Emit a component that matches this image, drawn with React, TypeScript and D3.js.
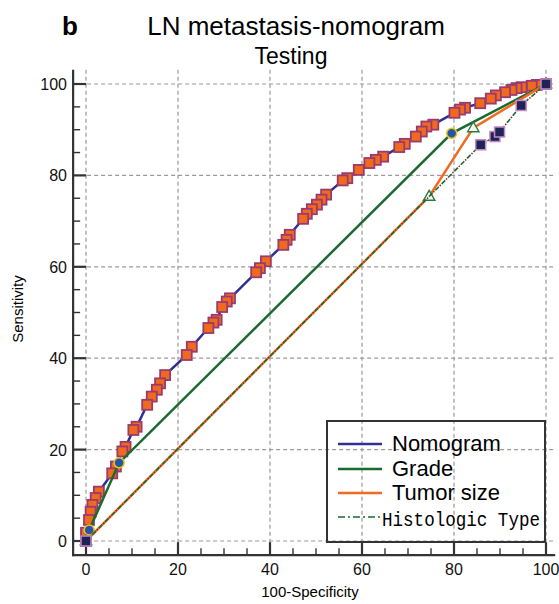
import React from "react";
import * as d3 from "d3";

const nomX = [0, 0, 0.65, 1.0, 1.4, 2.1, 2.8, 5.7, 6.5, 7.9, 8.6, 10.3, 11.0, 13.3, 14.3, 15.4, 16.1, 17.2, 21.9, 23.0, 26.6, 27.7, 28.4, 29.6, 30.6, 31.3, 37.0, 37.8, 39.1, 42.9, 43.6, 44.3, 47.2, 48.0, 49.1, 50.2, 51.2, 52.2, 55.8, 56.8, 59.3, 61.6, 63.0, 64.6, 68.1, 69.3, 71.7, 73.0, 74.0, 75.5, 80.1, 81.3, 82.4, 85.7, 88.0, 89.1, 91.1, 92.5, 93.6, 94.7, 96.9, 98.0, 100];
const nomY = [0, 1.8, 4.6, 6.4, 7.9, 9.4, 10.8, 14.8, 16.3, 19.6, 20.6, 24.3, 25.0, 29.8, 31.6, 33.1, 34.5, 36.3, 40.7, 42.5, 46.6, 47.8, 48.4, 51.2, 52.4, 53.1, 58.8, 59.7, 61.2, 64.8, 65.9, 67.0, 70.5, 71.6, 72.6, 73.6, 74.7, 75.8, 78.9, 79.4, 81.2, 82.7, 83.4, 84.1, 86.2, 86.9, 88.5, 89.6, 90.7, 91.1, 93.7, 94.4, 94.8, 95.8, 96.8, 97.5, 98.2, 98.7, 99.1, 99.3, 99.6, 99.8, 100];

const gradeX = [0, 0.7, 7.2, 79.5, 100];
const gradeY = [0, 2.4, 17.1, 89.2, 100];

const sizeX = [0, 74.6, 84.2, 100];
const sizeY = [0, 75.4, 90.4, 100];

const histX = [0, 85.8, 88.9, 89.9, 94.6, 100];
const histY = [0, 86.7, 88.5, 89.5, 95.3, 100];

const ticks = [0, 20, 40, 60, 80, 100];
const minorTicks = d3.range(0, 101, 5);
const legendLabels = ["Nomogram", "Grade", "Tumor size", "Histologic Type"];

const C_NOM = "#2e3192";
const C_GRADE = "#1b6a30";
const C_SIZE = "#f26a1f";
const C_HIST = "#1b6a30";

export default function App() {
  const W = 559, H = 604;
  const x = d3.scaleLinear().domain([0, 100]).range([86, 546]);
  const y = d3.scaleLinear().domain([0, 100]).range([541, 84]);
  const axX = x(-2.8), axY = y(-3.1);
  const xEnd = x(102), yTop = y(103.1);
  const line = (xs: number[], ys: number[]) =>
    d3.line<number>().x((_, i) => x(xs[i])).y((_, i) => y(ys[i]))(xs.map((_, i) => i)) || "";
  const sans = "'Liberation Sans', Arial, sans-serif";
  const nomIdx = nomX.map((_, i) => i).reverse();
  const lg = { x0: 327, y0: 421, x1: 545, y1: 542 };
  const lgRows = [444, 469, 493, 517];
  const tri = (cx: number, cy: number, s: number) =>
    `M${cx},${cy - s}L${cx + s * 0.95},${cy + s * 0.65}L${cx - s * 0.95},${cy + s * 0.65}Z`;
  return (
    <svg width={W} height={H} style={{ position: "absolute", left: 0, top: 0 }} fontFamily={sans}>
      <rect width={W} height={H} fill="#fff" />
      <text x={62} y={35} fontSize={26} fontWeight="bold">b</text>
      <text x={296} y={35} fontSize={26} textAnchor="middle">LN metastasis-nomogram</text>
      <text x={291} y={64} fontSize={23} textAnchor="middle">Testing</text>
      {/* grid */}
      <g stroke="#9a9a9a" strokeWidth={1.2} strokeDasharray="4,3" fill="none">
        {ticks.map((t) => (
          <line key={"gx" + t} x1={x(t)} x2={x(t)} y1={yTop} y2={axY} />
        ))}
        {ticks.map((t) => (
          <line key={"gy" + t} x1={axX} x2={xEnd} y1={y(t)} y2={y(t)} />
        ))}
      </g>
      {/* axes */}
      <g stroke="#333" fill="none">
        <line x1={axX} x2={axX} y1={yTop} y2={axY + 1} strokeWidth={2.2} />
        <line x1={axX - 1} x2={xEnd} y1={axY} y2={axY} strokeWidth={2.2} />
        {minorTicks.map((t) => {
          const major = t % 20 === 0;
          const len = major ? 13 : 7;
          return (
            <g key={"t" + t} strokeWidth={major ? 2.2 : 1.4}>
              <line x1={axX} x2={axX + len} y1={y(t)} y2={y(t)} />
              <line x1={x(t)} x2={x(t)} y1={axY} y2={axY - len} />
            </g>
          );
        })}
      </g>
      <g fontSize={16} fill="#111">
        {ticks.map((t) => (
          <text key={"ly" + t} x={67} y={y(t) + 6} textAnchor="end">{t}</text>
        ))}
        {ticks.map((t) => (
          <text key={"lx" + t} x={x(t)} y={575} textAnchor="middle">{t}</text>
        ))}
      </g>
      <text x={310} y={597} fontSize={15} textAnchor="middle">100-Specificity</text>
      <text transform="translate(23,309) rotate(-90)" fontSize={15} textAnchor="middle">Sensitivity</text>
      {/* nomogram */}
      <path d={line(nomX, nomY)} stroke={C_NOM} strokeWidth={2.5} fill="none" />
      {nomIdx.map((i) => (
        <rect key={"n" + i} x={x(nomX[i]) - 5} y={y(nomY[i]) - 5} width={10} height={10}
          fill="#f06a1e" stroke="#9b3a6e" strokeWidth={1.8} />
      ))}
      {/* grade */}
      <path d={line(gradeX, gradeY)} stroke={C_GRADE} strokeWidth={2.5} fill="none" />
      {gradeX.slice(1, 4).map((v, i) => (
        <circle key={"g" + i} cx={x(v)} cy={y(gradeY[i + 1])} r={5} fill="#2356a8" stroke="#ecc41c" strokeWidth={1.5} />
      ))}
      {/* tumor size */}
      <path d={line(sizeX, sizeY)} stroke={C_SIZE} strokeWidth={2.5} fill="none" />
      {sizeX.map((v, i) => (
        <path key={"s" + i} d={tri(x(v), y(sizeY[i]), 6)} fill="#fff" fillOpacity={0.9} stroke="#2b7a3e" strokeWidth={1.4} />
      ))}
      {/* histologic */}
      <path d={line(histX, histY)} stroke={C_HIST} strokeWidth={1.6} fill="none" strokeDasharray="5,4" />
      <path d={line(histX, histY)} stroke="#8b2a2a" strokeWidth={1.6} fill="none" strokeDasharray="1.5,7.5" strokeDashoffset={-6.2} />
      {histX.map((v, i) => (
        <rect key={"h" + i} x={x(v) - 5} y={y(histY[i]) - 5} width={10} height={10}
          fill="#1f2456" stroke="#c58ac5" strokeWidth={1.5} />
      ))}
      {/* legend */}
      <rect x={lg.x0} y={lg.y0} width={lg.x1 - lg.x0} height={lg.y1 - lg.y0} fill="none" stroke="#333" strokeWidth={2} />
      {[C_NOM, C_GRADE, C_SIZE].map((c, i) => (
        <line key={"ll" + i} x1={338} x2={382} y1={lgRows[i]} y2={lgRows[i]} stroke={c} strokeWidth={2.5} />
      ))}
      <line x1={338} x2={382} y1={lgRows[3]} y2={lgRows[3]} stroke={C_HIST} strokeWidth={1.6} strokeDasharray="7,3,2,3" />
      {legendLabels.slice(0, 3).map((l, i) => (
        <text key={"lt" + i} x={392} y={lgRows[i] + 7} fontSize={22}>{l}</text>
      ))}
      <text x={382} y={lgRows[3] + 9} fontSize={21} fontFamily="'Liberation Mono', 'DejaVu Sans Mono', monospace"
        textLength={158} lengthAdjust="spacingAndGlyphs">{legendLabels[3]}</text>
    </svg>
  );
}
